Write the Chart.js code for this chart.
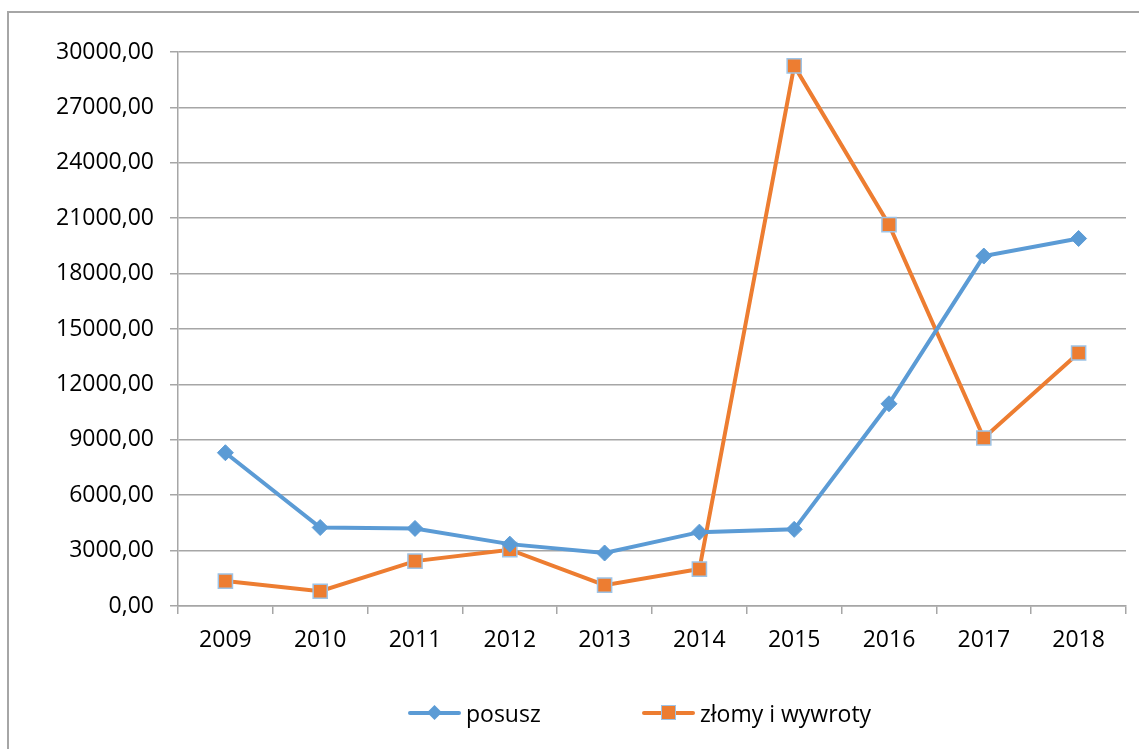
<!DOCTYPE html>
<html>
<head>
<meta charset="utf-8">
<script src="https://cdn.jsdelivr.net/npm/chart.js"></script>
<style>
  html, body { margin: 0; padding: 0; background: #fff; }
  #wrap { position: relative; width: 1139px; height: 749px; overflow: hidden; }
  #frame { position: absolute; left: 7px; top: 11px; width: 1200px; height: 800px;
           border-top: 2px solid #a6a6a6; border-left: 2px solid #a6a6a6; }
  #chart { position: absolute; left: 0; top: 0; }
  .legend-item { position: absolute; top: 698px; height: 30px; display: flex; align-items: center;
                 font-family: "Open Sans", sans-serif; font-size: 23px; color: #000; }
  .legend-mark { position: relative; width: 53px; height: 30px; margin-right: 5px; }
  .legend-mark .ln { position: absolute; left: 0; right: 0; top: 13px; height: 4px; border-radius: 2px; }
  .legend-mark .mk { position: absolute; left: 20px; top: 8px; width: 13px; height: 13px; box-sizing: border-box; }
</style>
</head>
<body>
<div id="wrap">
  <div id="frame"></div>
  <canvas id="chart" width="1139" height="749"></canvas>
  <div class="legend-item" style="left:408px">
    <span class="legend-mark"><span class="ln" style="background:#5b9bd5"></span>
      <span class="mk" style="background:#5b9bd5;transform:rotate(45deg) scale(0.82)"></span></span>posusz
  </div>
  <div class="legend-item" style="left:642px">
    <span class="legend-mark"><span class="ln" style="background:#ed7d31"></span>
      <span class="mk" style="background:#ed7d31;border:1.5px solid #9dc3e6;left:19px;top:7px;width:15px;height:15px"></span></span>złomy i wywroty
  </div>
</div>
<script>
const years = ['2009', '2010', '2011', '2012', '2013', '2014', '2015', '2016', '2017', '2018'];
const posusz = [8300, 4250, 4200, 3350, 2870, 4000, 4150, 10950, 18950, 19900];
const zlomy = [1350, 800, 2430, 3050, 1130, 2000, 29250, 20650, 9100, 13700];
const yTicks = [0, 3000, 6000, 9000, 12000, 15000, 18000, 21000, 24000, 27000, 30000];

const FONT = { family: '"Open Sans", sans-serif', size: 23 };
const GRID = '#a6a6a6';

new Chart(document.getElementById('chart'), {
  type: 'line',
  data: {
    labels: years,
    datasets: [
      {
        label: 'posusz',
        data: posusz,
        borderColor: '#5b9bd5',
        backgroundColor: '#5b9bd5',
        borderWidth: 4,
        pointStyle: 'rectRot',
        pointRadius: 8,
        pointBorderWidth: 1,
        pointBorderColor: '#5b9bd5',
        tension: 0
      },
      {
        label: 'złomy i wywroty',
        data: zlomy,
        borderColor: '#ed7d31',
        backgroundColor: '#ed7d31',
        borderWidth: 4,
        pointStyle: 'rect',
        pointRadius: 10,
        pointBorderWidth: 1.5,
        pointBorderColor: '#9dc3e6',
        tension: 0
      }
    ]
  },
  options: {
    responsive: false,
    animation: false,
    layout: { padding: { left: 8, top: 52, right: 13, bottom: 93 } },
    plugins: { legend: { display: false }, tooltip: { enabled: false } },
    scales: {
      x: {
        offset: true,
        grid: { offset: true, drawOnChartArea: false, drawTicks: true, tickLength: 8, color: GRID, lineWidth: 1.5 },
        border: { color: GRID, width: 1.5 },
        ticks: { font: FONT, color: '#000', padding: 13, maxRotation: 0 },
        afterFit: s => { s.height = 50; }
      },
      y: {
        min: 0,
        max: 30000,
        afterBuildTicks: s => { s.ticks = yTicks.map(v => ({ value: v })); },
        grid: { color: GRID, lineWidth: 1.5, tickLength: 8 },
        border: { color: GRID, width: 1.5 },
        ticks: {
          font: FONT,
          color: '#000',
          padding: 16,
          callback: v => v.toFixed(2).replace('.', ',')
        },
        afterFit: s => { s.width = 170; }
      }
    }
  }
});
</script>
</body>
</html>
